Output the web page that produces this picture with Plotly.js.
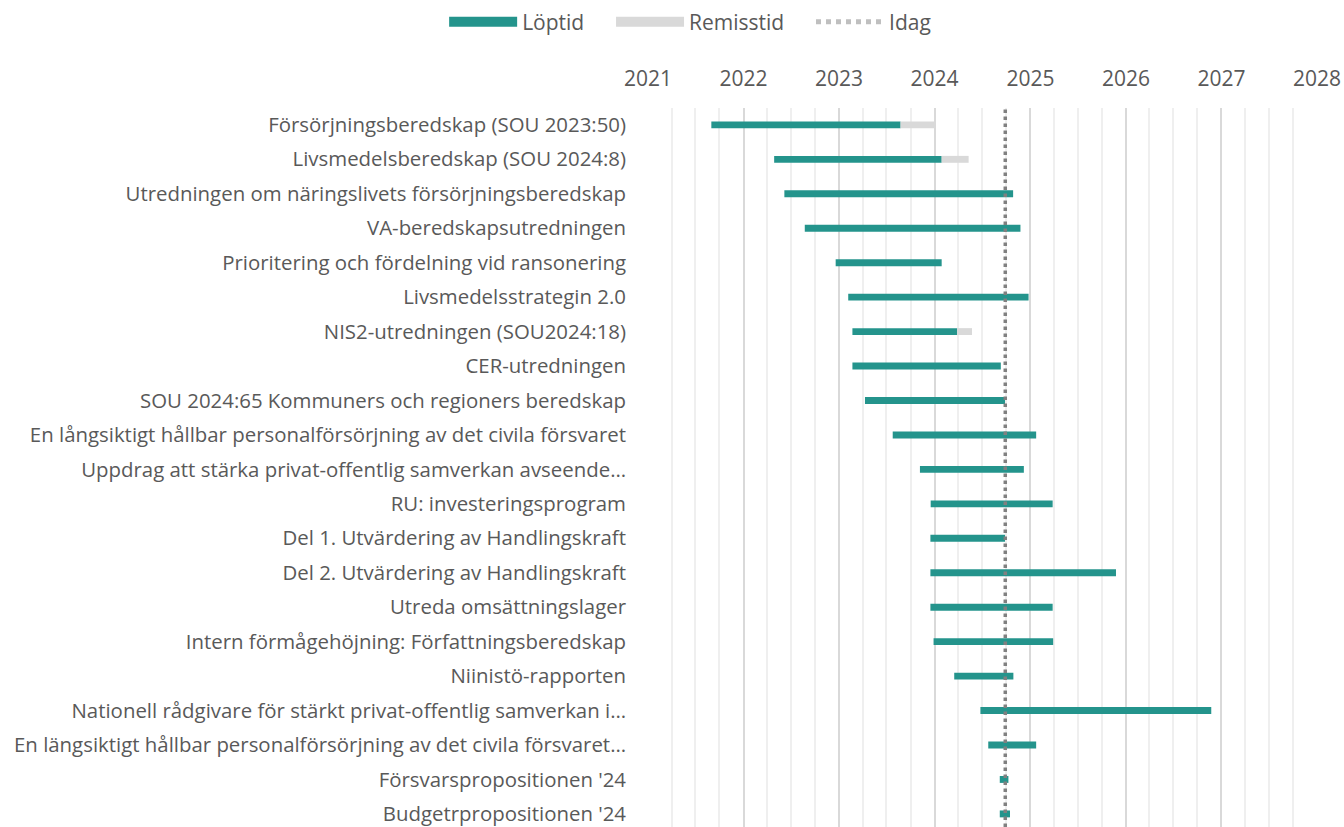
<!DOCTYPE html>
<html>
<head>
<meta charset="utf-8">
<script src="https://cdn.plot.ly/plotly-3.0.1.min.js"></script>
<style>html,body{margin:0;padding:0;background:#fff;}#chart{width:1344px;height:827px;}</style>
</head>
<body>
<div id="chart"></div>
<script>
const projects = [
  "Försörjningsberedskap (SOU 2023:50)",
  "Livsmedelsberedskap (SOU 2024:8)",
  "Utredningen om näringslivets försörjningsberedskap",
  "VA-beredskapsutredningen",
  "Prioritering och fördelning vid ransonering",
  "Livsmedelsstrategin 2.0",
  "NIS2-utredningen (SOU2024:18)",
  "CER-utredningen",
  "SOU 2024:65 Kommuners och regioners beredskap",
  "En långsiktigt hållbar personalförsörjning av det civila försvaret",
  "Uppdrag att stärka privat-offentlig samverkan avseende…",
  "RU: investeringsprogram",
  "Del 1. Utvärdering av Handlingskraft",
  "Del 2. Utvärdering av Handlingskraft",
  "Utreda omsättningslager",
  "Intern förmågehöjning: Författningsberedskap",
  "Niinistö-rapporten",
  "Nationell rådgivare för stärkt privat-offentlig samverkan i…",
  "En längsiktigt hållbar personalförsörjning av det civila försvaret…",
  "Försvarspropositionen '24",
  "Budgetrpropositionen '24"
];
const startDates = [
  "2021-08-31","2022-04-28","2022-06-06","2022-08-23","2022-12-19","2023-02-05","2023-02-21",
  "2023-02-21","2023-04-10","2023-07-25","2023-11-06","2023-12-17","2023-12-16","2023-12-16",
  "2023-12-16","2023-12-28","2024-03-16","2024-06-24","2024-07-24","2024-09-06","2024-09-06"
];
const loptidEnd = [
  "2023-08-24","2024-01-28","2024-10-27","2024-11-24","2024-01-28","2024-12-25","2024-03-27",
  "2024-09-10","2024-09-26","2025-01-23","2024-12-07","2025-03-27","2024-09-26","2025-11-24",
  "2025-03-27","2025-03-29","2024-10-28","2026-11-23","2025-01-23","2024-10-09","2024-10-15"
];
const remissEnd = [
  "2023-12-31","2024-05-10",null,null,null,null,"2024-05-23",
  null,null,null,null,null,null,null,
  null,null,null,null,null,null,null
];
const today = "2024-09-27";
const yearTicks = ["2021","2022","2023","2024","2025","2026","2027","2028"];
const legendNames = ["Löptid", "Remisstid", "Idag"];

const ms = (a, b) => new Date(b) - new Date(a);
const teal = "#24948C";
const remissGray = "#D9D9D9";
const txt = "#595959";
const FONT = "'Open Sans', 'Noto Sans', sans-serif";
const FS = 21;
const pad = "\u00A0\u00A0\u00A0\u00A0";

const remIdx = remissEnd.map((v, i) => v ? i : -1).filter(i => i >= 0);

const traces = [
  {
    type: "bar", orientation: "h",
    y: projects,
    base: startDates,
    x: startDates.map((s, i) => ms(s, loptidEnd[i])),
    marker: {color: teal, line: {width: 0}},
    width: 0.2, showlegend: false, hoverinfo: "skip"
  },
  {
    type: "bar", orientation: "h",
    y: remIdx.map(i => projects[i]),
    base: remIdx.map(i => loptidEnd[i]),
    x: remIdx.map(i => ms(loptidEnd[i], remissEnd[i])),
    marker: {color: remissGray, line: {width: 0}},
    width: 0.2, showlegend: false, hoverinfo: "skip"
  },
  {type: "scatter", mode: "lines", x: [null], y: [null], name: legendNames[0] + pad,
   line: {color: teal, width: 15}},
  {type: "scatter", mode: "lines", x: [null], y: [null], name: legendNames[1] + pad,
   line: {color: remissGray, width: 15}},
  {type: "scatter", mode: "lines", x: [null], y: [null], name: legendNames[2],
   line: {color: "#BFBFBF", width: 5, dash: "dot"}}
];

const layout = {
  width: 1344, height: 827,
  margin: {l: 648, r: 27, t: 108, b: 0, pad: 0},
  paper_bgcolor: "#fff", plot_bgcolor: "#fff",
  font: {family: FONT, color: txt, size: FS},
  barmode: "overlay",
  showlegend: true,
  legend: {
    orientation: "h", xref: "container", yref: "container",
    x: 0.5135, xanchor: "center", y: 1 - 22/827, yanchor: "middle",
    itemwidth: 68, font: {family: FONT, size: FS, color: txt},
    traceorder: "normal"
  },
  xaxis: {
    type: "date", side: "top",
    range: ["2021-01-01", "2028-01-01"],
    tickmode: "array",
    tickvals: yearTicks.map(y => y + "-01-01"),
    ticktext: yearTicks,
    ticks: "", ticklabelstandoff: 17,
    showgrid: true, gridcolor: "#D9D9D9", gridwidth: 2,
    minor: {dtick: "M3", tick0: "2021-01-01", showgrid: true, gridcolor: "#EFEFEF", gridwidth: 2},
    zeroline: false, showline: false,
    tickfont: {family: FONT, size: FS, color: txt},
    fixedrange: true
  },
  yaxis: {
    type: "category",
    categoryorder: "array", categoryarray: projects,
    range: [20.38, -0.49],
    showgrid: false, zeroline: false, showline: false,
    ticks: "", ticklabelstandoff: 21,
    tickfont: {family: FONT, size: 20.4, color: txt},
    fixedrange: true
  },
  shapes: [{
    type: "line", xref: "x", yref: "paper",
    x0: today, x1: today, y0: 0, y1: 1,
    line: {color: "#808080", width: 3.5, dash: "dot"}
  }]
};

Plotly.newPlot("chart", traces, layout, {displayModeBar: false, staticPlot: true});
</script>
</body>
</html>
